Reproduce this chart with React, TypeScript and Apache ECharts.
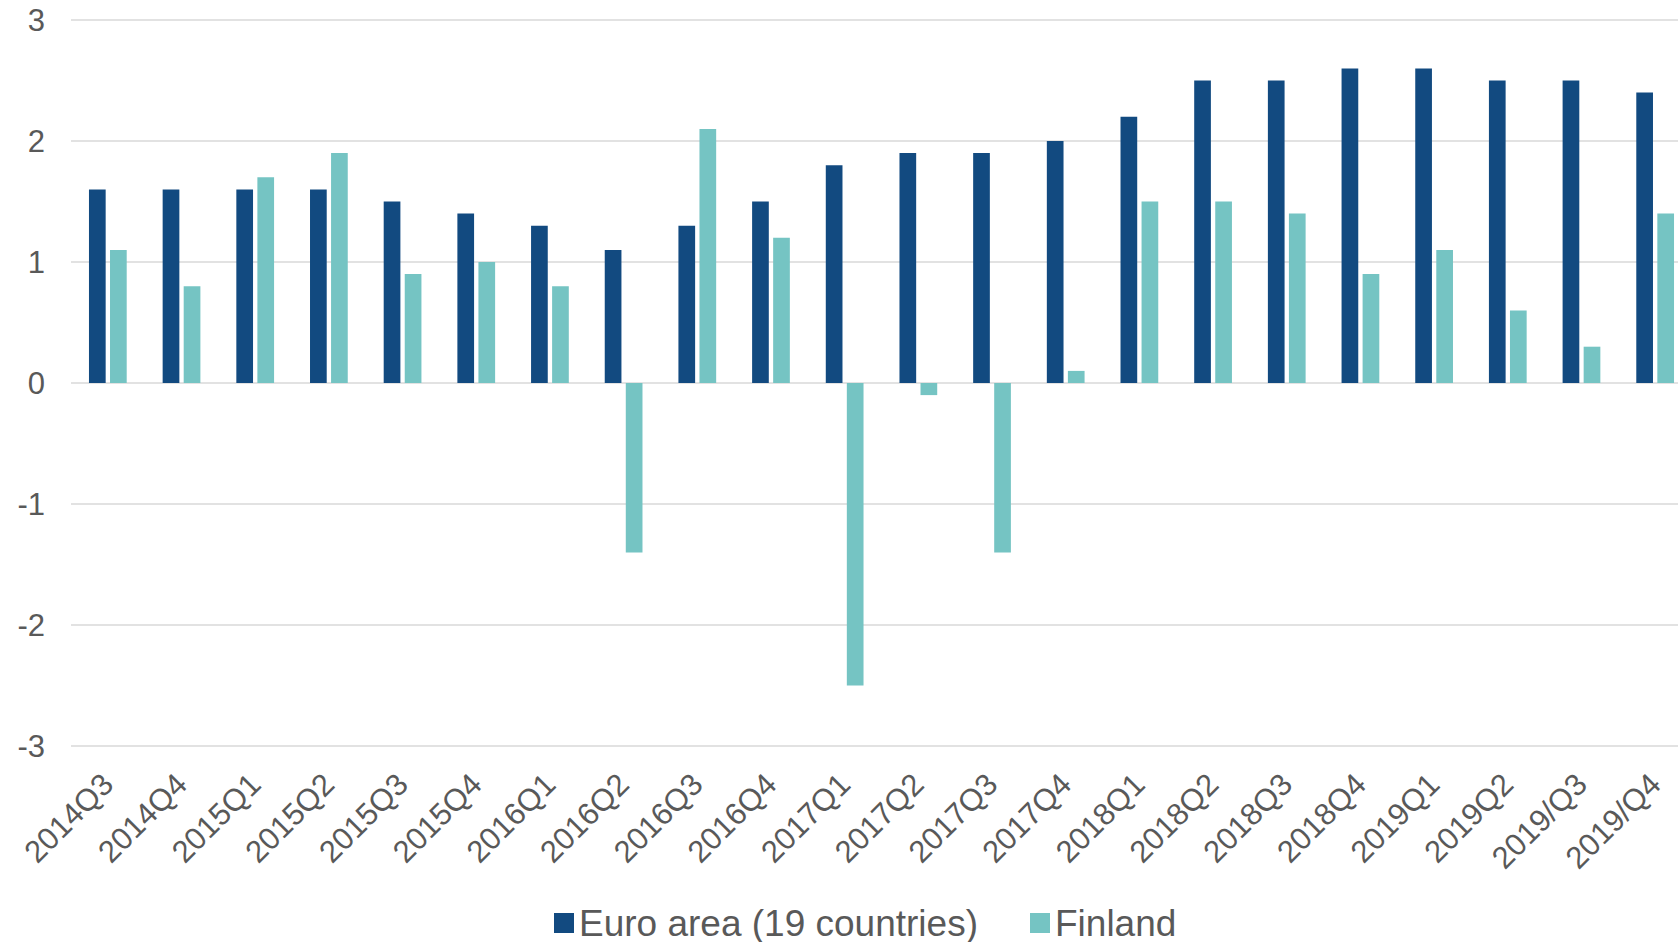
import React, { useEffect, useRef } from "react";
import * as echarts from "echarts";

const categories = [
  "2014Q3", "2014Q4", "2015Q1", "2015Q2", "2015Q3", "2015Q4", "2016Q1", "2016Q2",
  "2016Q3", "2016Q4", "2017Q1", "2017Q2", "2017Q3", "2017Q4", "2018Q1", "2018Q2",
  "2018Q3", "2018Q4", "2019Q1", "2019Q2", "2019/Q3", "2019/Q4",
];

const euroArea = [
  1.6, 1.6, 1.6, 1.6, 1.5, 1.4, 1.3, 1.1, 1.3, 1.5, 1.8, 1.9, 1.9, 2.0, 2.2, 2.5,
  2.5, 2.6, 2.6, 2.5, 2.5, 2.4,
];

const finland = [
  1.1, 0.8, 1.7, 1.9, 0.9, 1.0, 0.8, -1.4, 2.1, 1.2, -2.5, -0.1, -1.4, 0.1, 1.5, 1.5,
  1.4, 0.9, 1.1, 0.6, 0.3, 1.4,
];

const yMin = -3;
const yMax = 3;
const yInterval = 1;

const FONT = "'Liberation Sans', Arial, sans-serif";
const TEXT_COLOR = "#595959";

export default function App() {
  const ref = useRef<HTMLDivElement>(null);

  useEffect(() => {
    if (!ref.current) return;
    const chart = echarts.init(ref.current, undefined, { renderer: "svg" });
    chart.setOption({
      animation: false,
      backgroundColor: "#ffffff",
      textStyle: { fontFamily: FONT, color: TEXT_COLOR },
      grid: { left: 71, right: 8, top: 20, bottom: 196, containLabel: false },
      legend: {
        left: 549,
        top: 898,
        itemWidth: 20,
        itemHeight: 20,
        itemGap: 52,
        icon: "rect",
        textStyle: { fontSize: 37, lineHeight: 40, color: TEXT_COLOR, fontFamily: FONT },
        data: ["Euro area (19 countries)", "Finland"],
      },
      xAxis: {
        type: "category",
        data: categories,
        axisLine: { show: false, onZero: false },
        axisTick: { show: false },
        axisLabel: {
          rotate: 45,
          margin: 33,
          fontSize: 31,
          color: TEXT_COLOR,
          fontFamily: FONT,
          interval: 0,
        },
      },
      yAxis: {
        type: "value",
        min: yMin,
        max: yMax,
        interval: yInterval,
        axisLine: { show: false },
        axisTick: { show: false },
        axisLabel: { fontSize: 31, color: TEXT_COLOR, fontFamily: FONT, margin: 26 },
        splitLine: { lineStyle: { color: "#D9D9D9", width: 1.5 } },
      },
      series: [
        {
          name: "Euro area (19 countries)",
          type: "bar",
          data: euroArea,
          barWidth: 16.7,
          barGap: "26%",
          itemStyle: { color: "#124A80" },
        },
        {
          name: "Finland",
          type: "bar",
          data: finland,
          barWidth: 16.7,
          itemStyle: { color: "#75C4C3" },
        },
      ],
    });
    return () => chart.dispose();
  }, []);

  return (
    <div
      style={{
        position: "fixed",
        left: 0,
        top: 0,
        width: 1678,
        height: 942,
        overflow: "hidden",
        background: "#fff",
      }}
    >
      <div ref={ref} style={{ width: 1700, height: 942 }} />
    </div>
  );
}
